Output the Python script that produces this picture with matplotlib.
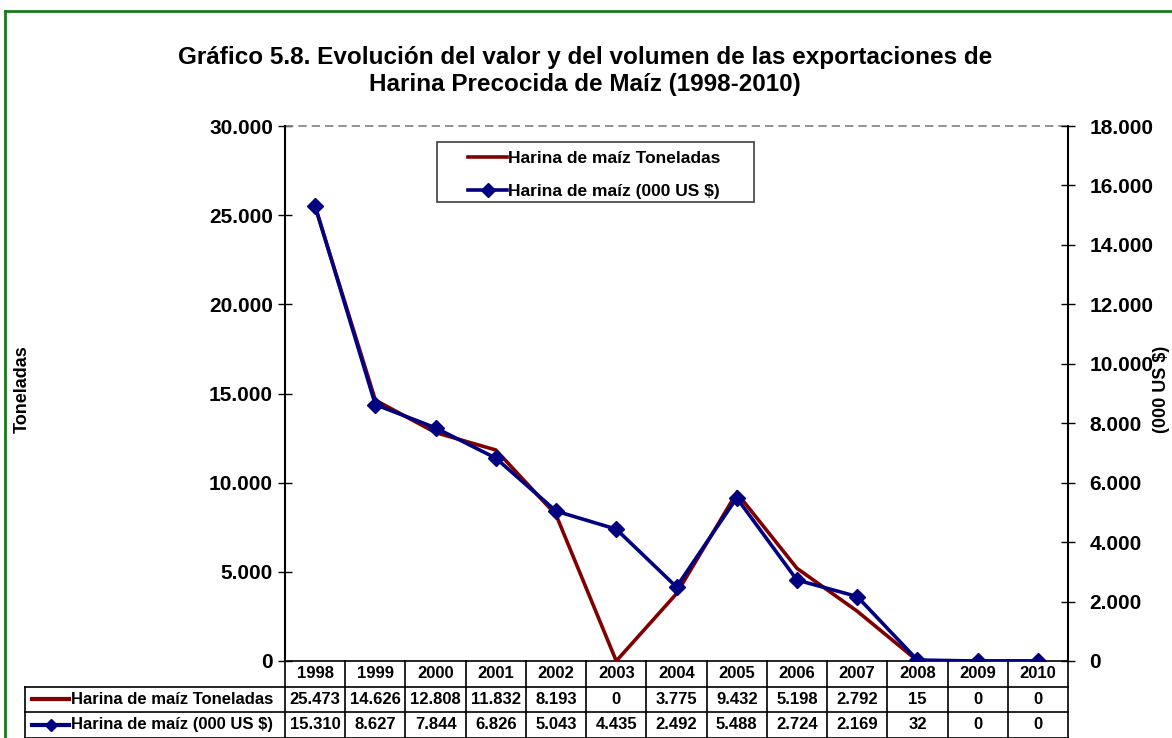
import matplotlib
matplotlib.use("Agg")
import matplotlib.pyplot as plt
from matplotlib.lines import Line2D
from matplotlib.patches import Rectangle
from matplotlib.ticker import FuncFormatter, MultipleLocator
import matplotlib.transforms as mtransforms

plt.rcParams['font.family'] = ['Liberation Sans', 'DejaVu Sans']
plt.rcParams['font.weight'] = 'bold'

years = ['1998', '1999', '2000', '2001', '2002', '2003', '2004', '2005',
         '2006', '2007', '2008', '2009', '2010']
toneladas = [25473, 14626, 12808, 11832, 8193, 0, 3775, 9432, 5198, 2792, 15, 0, 0]
valor_usd = [15310, 8627, 7844, 6826, 5043, 4435, 2492, 5488, 2724, 2169, 32, 0, 0]
label_ton = 'Harina de maíz Toneladas'
label_usd = 'Harina de maíz (000 US $)'
title = 'Gráfico 5.8. Evolución del valor y del volumen de las exportaciones de\nHarina Precocida de Maíz (1998-2010)'

W, H = 1172, 738
fig = plt.figure(figsize=(W / 100, H / 100), dpi=100)
ax_l, ax_r, ax_t, ax_b = 285, 1068, 126, 661
ax = fig.add_axes([ax_l / W, 1 - ax_b / H, (ax_r - ax_l) / W, (ax_b - ax_t) / H])
ax2 = ax.twinx()

red = '#800000'
navy = '#000080'
x = list(range(len(years)))
ax.plot(x, toneladas, color=red, lw=2.6, solid_joinstyle='miter', zorder=3)
ax2.plot(x, valor_usd, color=navy, lw=2.6, marker='D', ms=8, zorder=4)

ax.set_xlim(-0.5, len(years) - 0.5)
ax.set_ylim(0, 30000)
ax2.set_ylim(0, 18000)
ax.yaxis.set_major_locator(MultipleLocator(5000))
ax2.yaxis.set_major_locator(MultipleLocator(2000))
fmt = FuncFormatter(lambda v, p: f"{int(v):,}".replace(',', '.'))
ax.yaxis.set_major_formatter(fmt)
ax2.yaxis.set_major_formatter(fmt)
ax.set_xticks([])
for a in (ax, ax2):
    a.tick_params(axis='y', direction='inout', length=10, width=1, labelsize=15)
ax.tick_params(axis='y', pad=3.7)
ax2.tick_params(axis='y', pad=10.4)
for lab in ax.get_yticklabels() + ax2.get_yticklabels():
    lab.set_fontweight('bold')

for a in (ax, ax2):
    a.spines['top'].set_visible(False)
    a.spines['bottom'].set_visible(False)
ax2.spines['left'].set_visible(False)
ax.spines['right'].set_visible(False)
ax.spines['left'].set_linewidth(1.5)
ax2.spines['right'].set_linewidth(1.5)
ax.axhline(30000, color='#808080', ls=(0, (5, 3)), lw=1.2, clip_on=False)

# axis titles
fig.text(22 / W, 1 - 389 / H, 'Toneladas', rotation=90, ha='center', va='center',
         fontsize=13, fontweight='bold')
fig.text(1162 / W, 1 - 389 / H, '(000 US $)', rotation=90, ha='center', va='center',
         fontsize=13, fontweight='bold')

fig.text(585 / W, 1 - 71 / H, title, ha='center', va='center', fontsize=17.5,
         fontweight='bold', linespacing=1.2)

# legend
fig.add_artist(Rectangle((437 / W, 1 - 202 / H), (754 - 437) / W, 60 / H,
                         transform=fig.transFigure, facecolor='white',
                         edgecolor='#404040', lw=1.2, zorder=5))
handles = [Line2D([], [], color=red, lw=2.6),
           Line2D([], [], color=navy, lw=2.6, marker='D', ms=7)]
leg = fig.legend(handles, [label_ton, label_usd], loc='upper left',
                 bbox_to_anchor=(468 / W, 1 - 151 / H), frameon=False,
                 prop={'size': 12.5, 'weight': 'bold'}, handlelength=2.25,
                 handletextpad=0.05, borderpad=0, labelspacing=1.0, borderaxespad=0)
leg.set_zorder(6)

# data table below axes
axw = ax_r - ax_l
axh = ax_b - ax_t
row_h = 25.5 / axh
trans = mtransforms.blended_transform_factory(ax.transData, ax.transAxes)
tA = ax.transAxes
n = len(years)
left_tab = -(ax_l - 25) / axw
lkw = dict(color='black', lw=1.2, clip_on=False)
ax.plot([0, 1], [0, 0], transform=tA, **lkw)
for r in (1, 2, 3):
    ax.plot([left_tab, 1], [-r * row_h, -r * row_h], transform=tA, **lkw)
for i in range(n + 1):
    ax.plot([i - 0.5, i - 0.5], [0, -3 * row_h], transform=trans, **lkw)
ax.plot([left_tab, left_tab], [-row_h, -3 * row_h], transform=tA, **lkw)

fs_tab = 12
fmt_v = lambda v: f"{int(v):,}".replace(',', '.')
for i, yr in enumerate(years):
    ax.text(i, -0.5 * row_h, yr, transform=trans, ha='center', va='center',
            fontsize=fs_tab, fontweight='bold')
    ax.text(i, -1.5 * row_h, fmt_v(toneladas[i]), transform=trans, ha='center',
            va='center', fontsize=fs_tab, fontweight='bold')
    ax.text(i, -2.5 * row_h, fmt_v(valor_usd[i]), transform=trans, ha='center',
            va='center', fontsize=fs_tab, fontweight='bold')

lx0 = -(ax_l - 32) / axw
lx1 = -(ax_l - 69) / axw
tx = -(ax_l - 71) / axw
ax.add_line(Line2D([lx0, lx1], [-1.5 * row_h] * 2, transform=tA, color=red, lw=3,
                   clip_on=False))
ax.add_line(Line2D([lx0, lx1], [-2.5 * row_h] * 2, transform=tA, color=navy, lw=3,
                   clip_on=False))
ax.add_line(Line2D([(lx0 + lx1) / 2], [-2.5 * row_h], transform=tA, color=navy,
                   marker='D', ms=6, clip_on=False))
ax.text(tx, -1.5 * row_h, label_ton, transform=tA, ha='left', va='center',
        fontsize=fs_tab, fontweight='bold')
ax.text(tx, -2.5 * row_h, label_usd, transform=tA, ha='left', va='center',
        fontsize=fs_tab, fontweight='bold')

# green border
green = '#1a7a1a'
fig.add_artist(Line2D([5 / W, 5 / W], [0, 1 - 11 / H], transform=fig.transFigure,
                      color=green, lw=2))
fig.add_artist(Line2D([5 / W, 1], [1 - 11 / H, 1 - 11 / H], transform=fig.transFigure,
                      color=green, lw=2))

fig.savefig('out.png', dpi=100)
